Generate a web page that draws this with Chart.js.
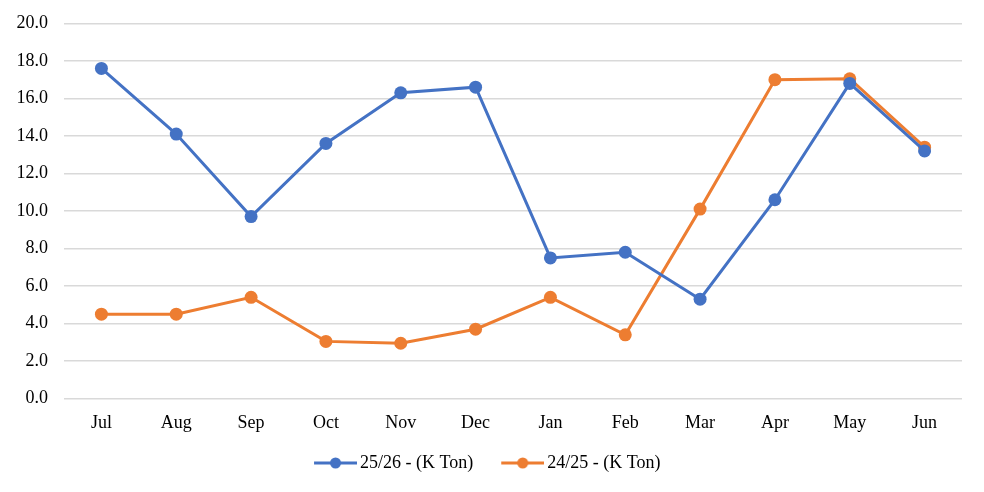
<!DOCTYPE html>
<html>
<head>
<meta charset="utf-8">
<script src="https://cdn.jsdelivr.net/npm/chart.js@4/dist/chart.umd.min.js"></script>
<style>
  html, body { margin: 0; padding: 0; background: #fff; }
  #wrap { width: 984px; height: 492px; }
</style>
</head>
<body>
<div id="wrap"><canvas id="seasonChart"></canvas></div>
<script>
// categories and series
const months = ['Jul', 'Aug', 'Sep', 'Oct', 'Nov', 'Dec', 'Jan', 'Feb', 'Mar', 'Apr', 'May', 'Jun'];
const season2526 = [17.6, 14.1, 9.7, 13.6, 16.3, 16.6, 7.5, 7.8, 5.3, 10.6, 16.8, 13.2];
const season2425 = [4.5, 4.5, 5.4, 3.05, 2.95, 3.7, 5.4, 3.4, 10.1, 17.0, 17.05, 13.4];
const seriesNames = ['25/26 - (K Ton)', '24/25 - (K Ton)'];

const blue = '#4472C4';
const orange = '#ED7D31';

// legend marker: short line with a dot, like the office chart.
// the canvas has a blank left part so the marker sits right against the text
function legendMarker(color) {
  const c = document.createElement('canvas');
  c.width = 61;
  c.height = 14;
  const g = c.getContext('2d');
  g.strokeStyle = color;
  g.lineWidth = 3;
  g.beginPath();
  g.moveTo(18, 7);
  g.lineTo(61, 7);
  g.stroke();
  g.fillStyle = color;
  g.beginPath();
  g.arc(39.5, 7, 5.5, 0, Math.PI * 2);
  g.fill();
  return c;
}

Chart.defaults.font.family = '"Liberation Serif", "Times New Roman", serif';
Chart.defaults.font.size = 18;
Chart.defaults.color = '#000';

new Chart(document.getElementById('seasonChart'), {
  type: 'line',
  data: {
    labels: months,
    datasets: [
      {
        label: seriesNames[0],
        data: season2526,
        borderColor: blue,
        backgroundColor: blue,
        borderWidth: 3,
        pointRadius: 6.5,
        pointHoverRadius: 6.5,
        pointBorderWidth: 0,
        pointStyle: 'circle',
        tension: 0
      },
      {
        label: seriesNames[1],
        data: season2425,
        borderColor: orange,
        backgroundColor: orange,
        borderWidth: 3,
        pointRadius: 6.5,
        pointHoverRadius: 6.5,
        pointBorderWidth: 0,
        pointStyle: 'circle',
        tension: 0
      }
    ]
  },
  options: {
    responsive: true,
    maintainAspectRatio: false,
    animation: false,
    layout: {
      padding: { left: 0.5, right: 22, top: 0, bottom: 10 }
    },
    plugins: {
      legend: {
        position: 'bottom',
        labels: {
          usePointStyle: true,
          pointStyleWidth: 49,
          generateLabels: function(chart) {
            return chart.data.datasets.map((ds, i) => ({
              text: ds.label,
              pointStyle: legendMarker(ds.borderColor),
              fillStyle: ds.borderColor,
              strokeStyle: ds.borderColor,
              lineWidth: 0,
              datasetIndex: i,
              hidden: false
            }));
          },
          padding: 16
        }
      },
      tooltip: { enabled: false }
    },
    scales: {
      x: {
        offset: true,
        grid: { display: false, drawTicks: false },
        border: { display: false },
        ticks: { padding: 13.4 },
        // a bit more room between the month labels and the legend
        afterFit: function(scale) {
          scale.height = 39.4;
        }
      },
      y: {
        min: 0,
        max: 20,
        ticks: {
          stepSize: 2,
          padding: 16,
          font: { lineHeight: 0.82 },
          callback: v => v.toFixed(1)
        },
        grid: { color: '#d9d9d9', lineWidth: 1.5, drawTicks: false },
        border: { display: false }
      }
    }
  }
});
</script>
</body>
</html>
